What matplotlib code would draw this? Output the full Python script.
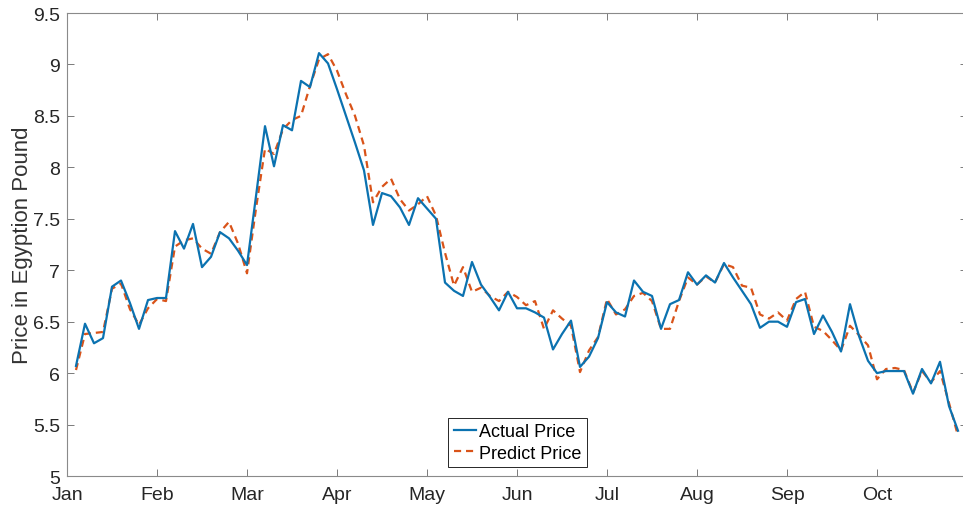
import matplotlib
matplotlib.use("Agg")
import matplotlib.pyplot as plt
import numpy as np

plt.rcParams['font.family'] = ['Liberation Sans', 'DejaVu Sans']

# Observed and model-predicted prices, sampled every few days
actual_price = [
    6.07, 6.48, 6.29, 6.34, 6.84, 6.90, 6.68, 6.43, 6.71, 6.73,
    6.73, 7.38, 7.21, 7.45, 7.03, 7.13, 7.37, 7.31, 7.19, 7.05,
    7.72, 8.40, 8.01, 8.41, 8.36, 8.84, 8.78, 9.11, 9.01, 8.76,
    8.50, 8.24, 7.97, 7.44, 7.75, 7.72, 7.61, 7.44, 7.70, 7.60,
    7.50, 6.88, 6.80, 6.75, 7.08, 6.86, 6.74, 6.61, 6.79, 6.63,
    6.63, 6.59, 6.54, 6.23, 6.38, 6.51, 6.06, 6.16, 6.34, 6.69,
    6.59, 6.55, 6.90, 6.79, 6.75, 6.43, 6.67, 6.71, 6.98, 6.86,
    6.95, 6.88, 7.07, 6.93, 6.80, 6.67, 6.44, 6.50, 6.50, 6.45,
    6.69, 6.72, 6.38, 6.56, 6.40, 6.21, 6.67, 6.36, 6.12, 6.00,
    6.02, 6.02, 6.02, 5.80, 6.04, 5.90, 6.11, 5.68, 5.44,
]
predict_price = [
    6.03, 6.38, 6.39, 6.40, 6.82, 6.87, 6.62, 6.47, 6.63, 6.72,
    6.70, 7.23, 7.29, 7.31, 7.21, 7.16, 7.37, 7.47, 7.26, 6.97,
    7.60, 8.18, 8.13, 8.37, 8.46, 8.50, 8.79, 9.05, 9.10, 8.94,
    8.71, 8.50, 8.21, 7.66, 7.81, 7.89, 7.69, 7.58, 7.64, 7.72,
    7.53, 7.17, 6.85, 7.03, 6.79, 6.83, 6.75, 6.70, 6.79, 6.74,
    6.66, 6.70, 6.43, 6.61, 6.53, 6.46, 6.01, 6.22, 6.35, 6.72,
    6.57, 6.62, 6.75, 6.78, 6.70, 6.43, 6.43, 6.70, 6.93, 6.86,
    6.94, 6.88, 7.06, 7.03, 6.85, 6.83, 6.57, 6.53, 6.59, 6.51,
    6.72, 6.79, 6.45, 6.41, 6.32, 6.22, 6.46, 6.37, 6.27, 5.94,
    6.04, 6.05, 6.03, 5.81, 6.02, 5.91, 6.02, 5.71, 5.39,
]
month_labels = ["Jan", "Feb", "Mar", "Apr", "May", "Jun", "Jul", "Aug", "Sep", "Oct"]
month_start = [0, 10, 20, 30, 40, 50, 60, 70, 80, 90]
y_ticks = [5, 5.5, 6, 6.5, 7, 7.5, 8, 8.5, 9, 9.5]

W, H = 963, 510
fig = plt.figure(figsize=(W / 100, H / 100), dpi=100)
ax = fig.add_axes([67 / W, (H - 477) / H, 900 / W, 463 / H])

t = np.arange(1, len(actual_price) + 1)
ax.plot(t, actual_price, color="#0b72b0", lw=1.6, label="Actual Price", zorder=3)
ax.plot(t, predict_price, color="#D95319", lw=1.6, ls=(0, (3.2, 2.2)),
        label="Predict Price", zorder=2)

ax.set_xlim(0, 100)
ax.set_ylim(5, 9.5)
ax.set_xticks(month_start)
ax.set_xticklabels(month_labels)
ax.set_yticks(y_ticks)
ax.set_yticklabels([f"{v:g}" for v in y_ticks])

ax.tick_params(direction="in", length=5, width=0.7, colors="#7a7a7a",
               labelcolor="#262626", labelsize=14, top=True, right=True)
ax.tick_params(axis="x", pad=7)
ax.tick_params(axis="y", pad=5)
for s in ax.spines.values():
    s.set_color("#8a8a8a")
    s.set_linewidth(0.8)

ax.set_ylabel("Price in Egyption Pound", fontsize=16, color="#333333", labelpad=0)

leg = ax.legend(loc="lower center", bbox_to_anchor=(0.5006, 0.019), borderaxespad=0,
                fontsize=13, frameon=True, fancybox=False, framealpha=1,
                handlelength=1.25, handletextpad=0.15, borderpad=0.3,
                labelspacing=0.25)
leg.get_frame().set_edgecolor("#262626")
leg.get_frame().set_linewidth(0.7)

fig.savefig("out.png", dpi=100)
